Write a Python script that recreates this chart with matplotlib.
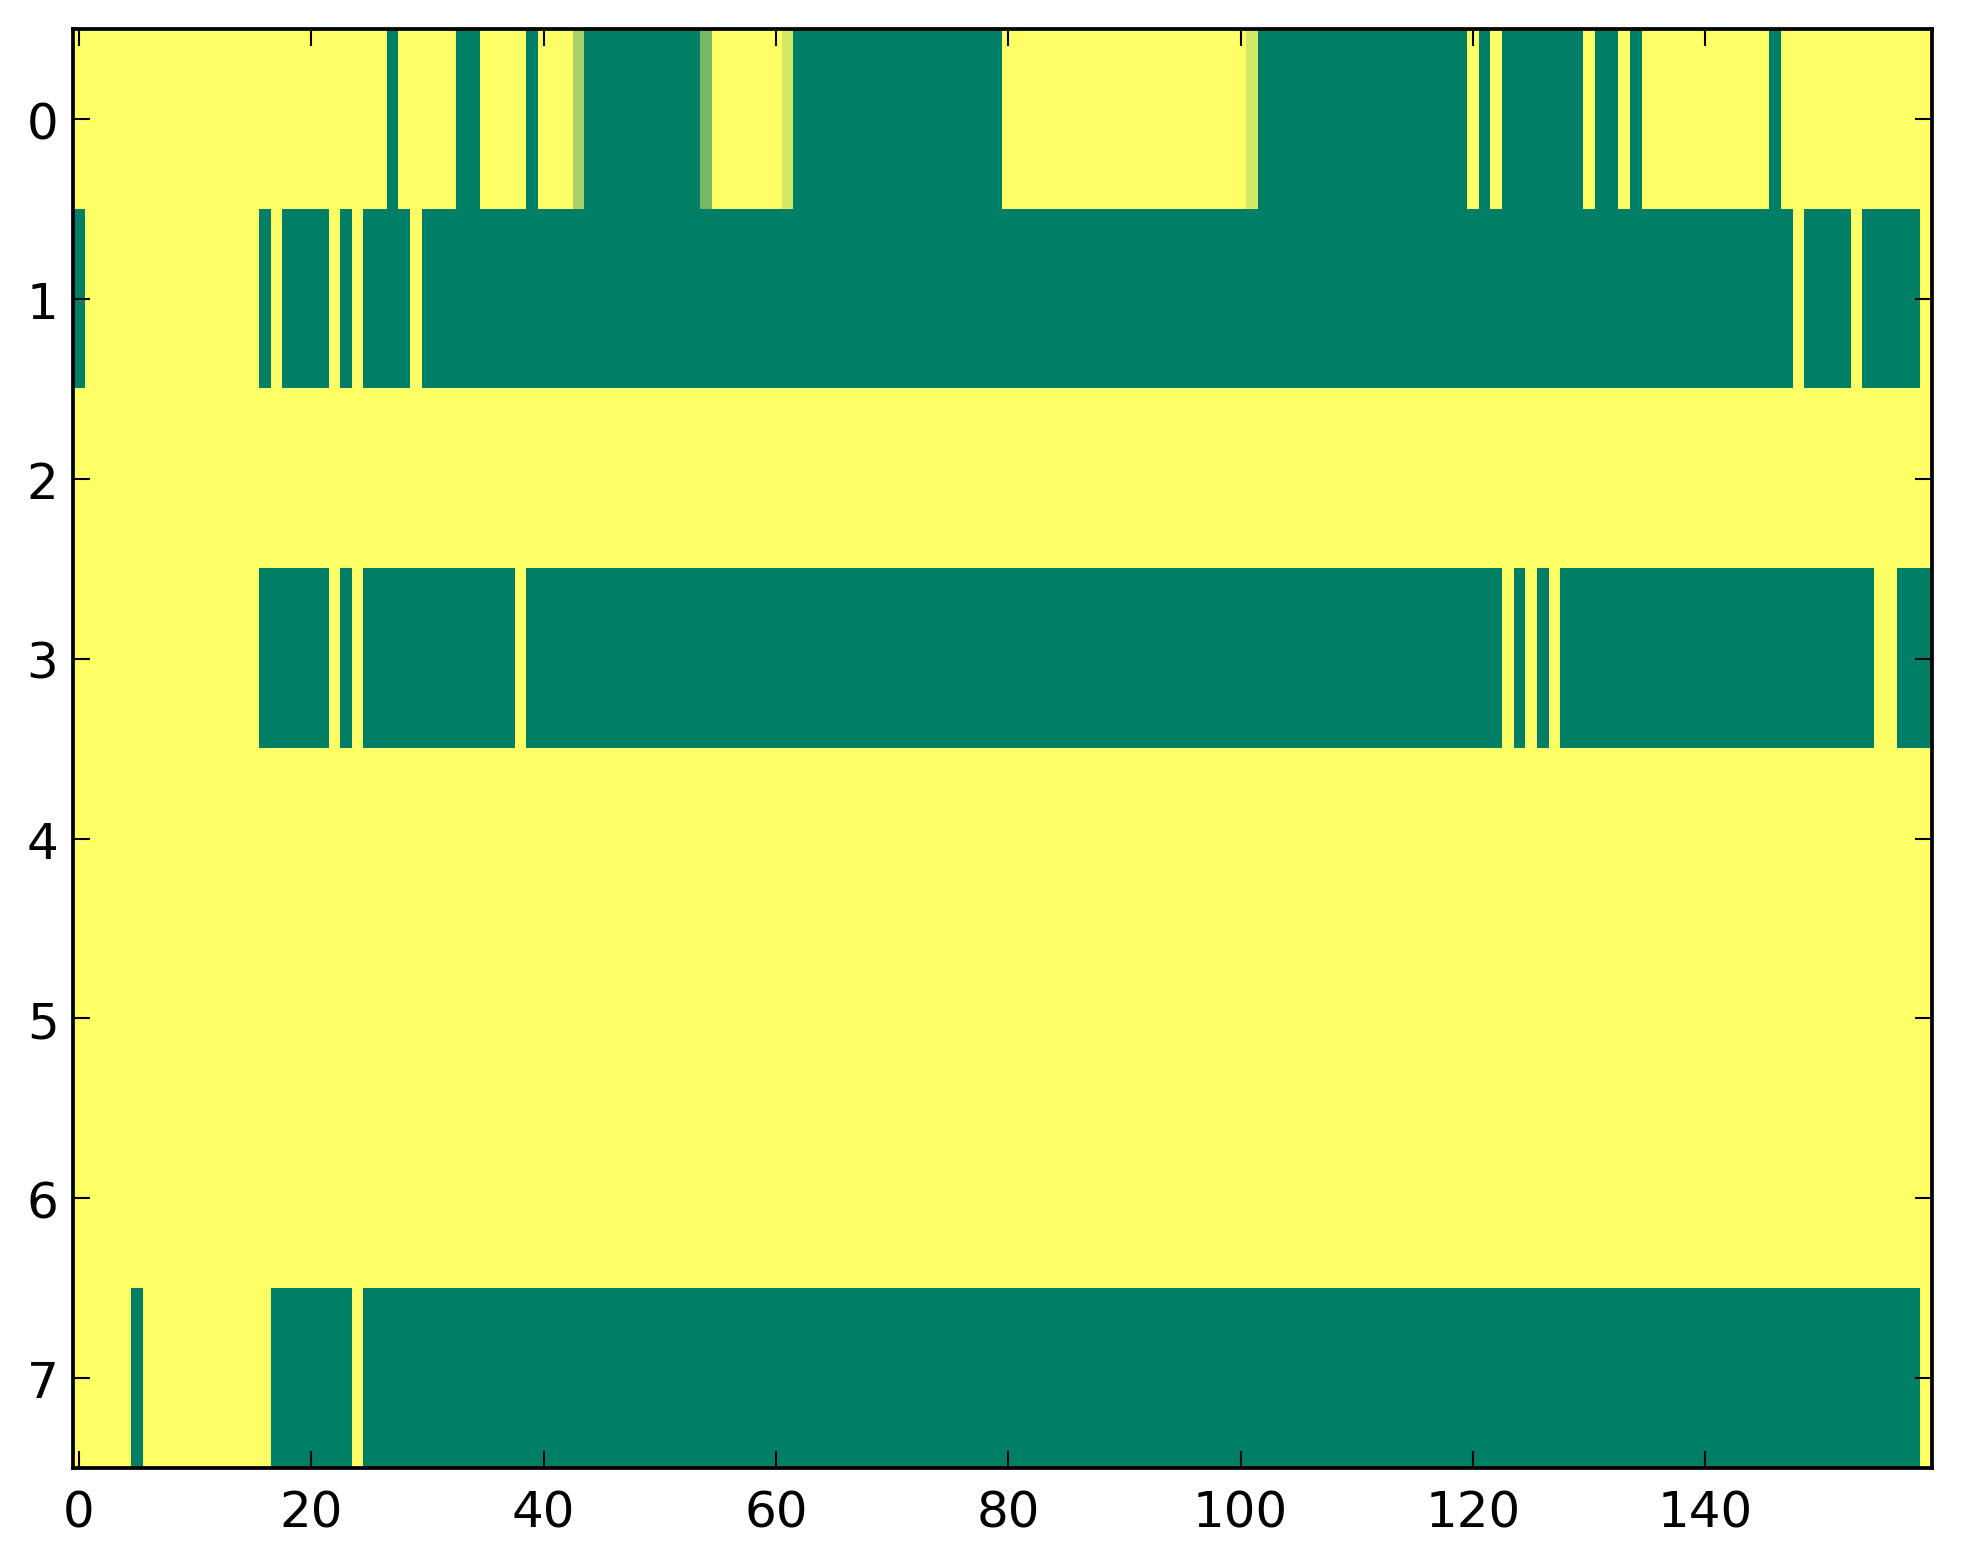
import numpy as np
import matplotlib
matplotlib.use("Agg")
import matplotlib.pyplot as plt

# cell values, one character per column (160 columns)
# '0' -> 0.0 (dark green), '1' -> 1.0 (yellow), letters -> in-between values
LEVELS = {"0": 0.0, "1": 1.0, "a": 0.65, "b": 0.45, "c": 0.83}

row0 = ("11111111111111111111" "11111110111110011110" "111a0000000000b11111"
        "1c000000000000000000" "11111111111111111111" "1c000000000000000000"
        "10100000001001011111" "11111101111111111111")
row1 = ("01111111111111110100" "00101000010000000000" "00000000000000000000"
        "00000000000000000000" "00000000000000000000" "00000000000000000000"
        "00000000000000000000" "00000000100001000001")
row2 = ("11111111111111111111" "11111111111111111111" "11111111111111111111"
        "11111111111111111111" "11111111111111111111" "11111111111111111111"
        "11111111111111111111" "11111111111111111111")
row3 = ("11111111111111110000" "00101000000000000010" "00000000000000000000"
        "00000000000000000000" "00000000000000000000" "00000000000000000000"
        "00010101000000000000" "00000000000000011000")
row4 = row2
row5 = row2
row6 = row2
row7 = ("11111011111111111000" "00001000000000000000" "00000000000000000000"
        "00000000000000000000" "00000000000000000000" "00000000000000000000"
        "00000000000000000000" "00000000000000000001")

rows = [row0, row1, row2, row3, row4, row5, row6, row7]
for r in rows:
    assert len(r) == 160, len(r)

matrix = np.array([[LEVELS[ch] for ch in r] for r in rows])

plt.rcParams["font.family"] = "DejaVu Sans"
plt.rcParams["font.size"] = 12

fig = plt.figure(figsize=(1963 / 300, 1564 / 300), dpi=300)
ax = fig.add_axes([0.0372, 0.0607, 0.9470, 0.9200])
ax.imshow(matrix, cmap="summer", vmin=0, vmax=1, aspect="auto",
          interpolation="nearest")

ax.set_xticks(np.arange(0, 160, 20))
ax.set_yticks(np.arange(0, 8))
ax.tick_params(direction="in", top=True, right=True, length=4, width=0.5,
               pad=5, labelsize=12)
ax.tick_params(axis="y", pad=3.5)
for sp in ax.spines.values():
    sp.set_linewidth(0.9)

fig.savefig("out.png", dpi=300, facecolor="white")
